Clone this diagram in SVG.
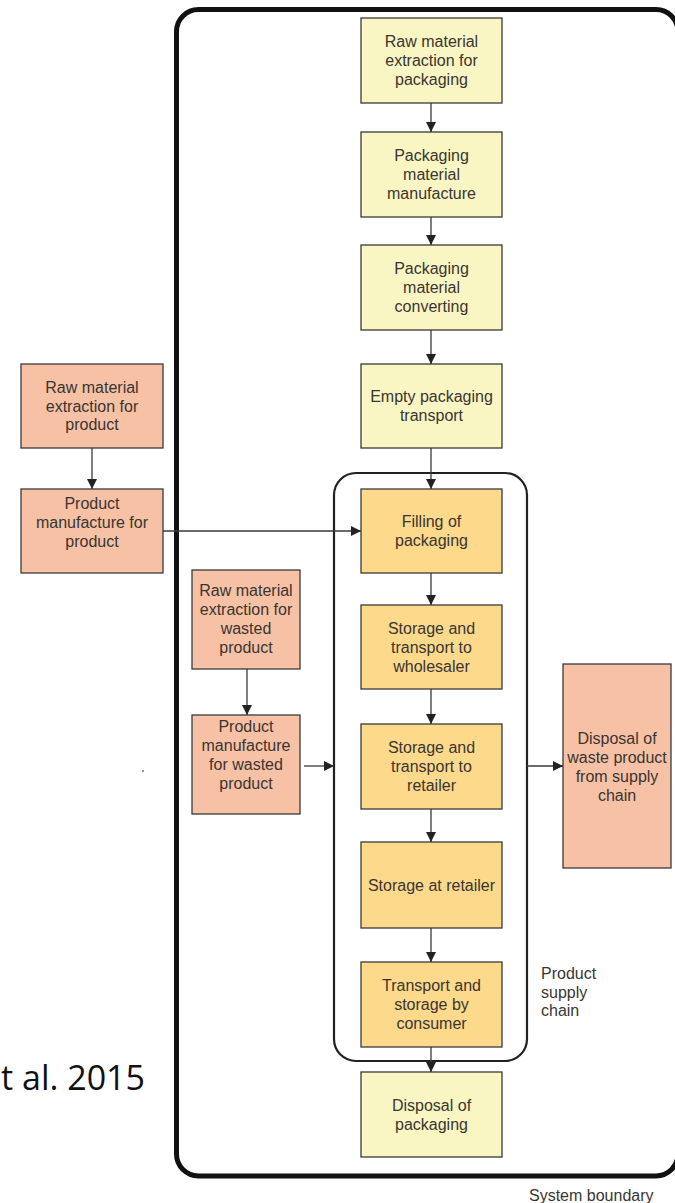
<svg xmlns="http://www.w3.org/2000/svg" width="675" height="1203" viewBox="0 0 675 1203">
<defs>
<style>
.box{stroke:#3a3a3a;stroke-width:1.3}
.pale{fill:#faf6c4}
.gold{fill:#fdd98c}
.salmon{fill:#f7c1a6}
.t{font-family:"Liberation Sans",Arial,sans-serif;font-size:16px;fill:#3a3530;text-anchor:middle}
.lbl{font-family:"Liberation Sans",Arial,sans-serif;font-size:16px;fill:#3a3530}
.c{stroke:#3a3a3a;stroke-width:1.3;fill:none;marker-end:url(#ah)}
</style>
<marker id="ah" markerUnits="userSpaceOnUse" markerWidth="10" markerHeight="10" refX="10" refY="5" orient="auto">
<path d="M0,0 L10,5 L0,10 z" fill="#222"/>
</marker>
</defs>
<rect width="675" height="1203" fill="#ffffff"/>
<g id="system-boundary">
<rect x="176.5" y="9.5" width="501.5" height="1166.5" rx="22" ry="22" fill="none" stroke="#111" stroke-width="5"/>
<text class="lbl" x="529" y="1201">System boundary</text>
</g>
<g id="product-supply-chain">
<rect x="334" y="473" width="193" height="588" rx="22" ry="22" fill="none" stroke="#222" stroke-width="2.2"/>
<text class="lbl" x="541" y="978.5">Product</text>
<text class="lbl" x="541" y="997.5">supply</text>
<text class="lbl" x="541" y="1016">chain</text>
</g>
<text id="citation" x="145" y="1090" font-family="'Open Sans','Noto Sans',sans-serif" font-size="34" fill="#111" text-anchor="end">et al. 2015</text>
<circle cx="143" cy="771" r="1" fill="#777"/>
<g id="raw-packaging"><rect class="box pale" x="361" y="18" width="141" height="85"/>
<text class="t" x="431.5" y="47">Raw material</text><text class="t" x="431.5" y="66">extraction for</text><text class="t" x="431.5" y="85">packaging</text></g>
<g id="packaging-manufacture"><rect class="box pale" x="361" y="132" width="141" height="85"/>
<text class="t" x="431.5" y="161">Packaging</text><text class="t" x="431.5" y="180">material</text><text class="t" x="431.5" y="199">manufacture</text></g>
<g id="packaging-converting"><rect class="box pale" x="361" y="245" width="141" height="85"/>
<text class="t" x="431.5" y="274">Packaging</text><text class="t" x="431.5" y="293">material</text><text class="t" x="431.5" y="312">converting</text></g>
<g id="empty-transport"><rect class="box pale" x="361" y="364" width="141" height="84"/>
<text class="t" x="431.5" y="402">Empty packaging</text><text class="t" x="431.5" y="421">transport</text></g>
<g id="filling"><rect class="box gold" x="361" y="489" width="141" height="84"/>
<text class="t" x="431.5" y="527">Filling of</text><text class="t" x="431.5" y="546">packaging</text></g>
<g id="wholesaler"><rect class="box gold" x="361" y="605" width="141" height="84"/>
<text class="t" x="431.5" y="633.5">Storage and</text><text class="t" x="431.5" y="652.5">transport to</text><text class="t" x="431.5" y="671.5">wholesaler</text></g>
<g id="retailer-transport"><rect class="box gold" x="361" y="724" width="141" height="85"/>
<text class="t" x="431.5" y="752.5">Storage and</text><text class="t" x="431.5" y="771.5">transport to</text><text class="t" x="431.5" y="790.5">retailer</text></g>
<g id="retailer-storage"><rect class="box gold" x="361" y="842" width="141" height="86"/>
<text class="t" x="431.5" y="890.5">Storage at retailer</text></g>
<g id="consumer"><rect class="box gold" x="361" y="962" width="141" height="85"/>
<text class="t" x="431.5" y="991">Transport and</text><text class="t" x="431.5" y="1010">storage by</text><text class="t" x="431.5" y="1029">consumer</text></g>
<g id="packaging-disposal"><rect class="box pale" x="361" y="1072" width="141" height="85"/>
<text class="t" x="431.5" y="1110.5">Disposal of</text><text class="t" x="431.5" y="1129.5">packaging</text></g>
<g id="raw-product"><rect class="box salmon" x="21" y="364" width="142" height="84"/>
<text class="t" x="92" y="392.5">Raw material</text><text class="t" x="92" y="411.5">extraction for</text><text class="t" x="92" y="430">product</text></g>
<g id="product-manufacture"><rect class="box salmon" x="21" y="489" width="142" height="84"/>
<text class="t" x="92" y="508.5">Product</text><text class="t" x="92" y="527.5">manufacture for</text><text class="t" x="92" y="546.5">product</text></g>
<g id="raw-wasted"><rect class="box salmon" x="192" y="570" width="108" height="99"/>
<text class="t" x="246" y="595.5">Raw material</text><text class="t" x="246" y="614.5">extraction for</text><text class="t" x="246" y="633.5">wasted</text><text class="t" x="246" y="653">product</text></g>
<g id="wasted-manufacture"><rect class="box salmon" x="192" y="715" width="108" height="99"/>
<text class="t" x="246" y="731.5">Product</text><text class="t" x="246" y="750.5">manufacture</text><text class="t" x="246" y="769.5">for wasted</text><text class="t" x="246" y="788.5">product</text></g>
<g id="waste-disposal"><rect class="box salmon" x="563" y="664" width="108" height="204"/>
<text class="t" x="617" y="743.5">Disposal of</text><text class="t" x="617" y="762.5">waste product</text><text class="t" x="617" y="781.5">from supply</text><text class="t" x="617" y="800.5">chain</text></g>
<g id="connectors">
<line class="c" x1="431" y1="103" x2="431" y2="132"/>
<line class="c" x1="431" y1="217" x2="431" y2="245"/>
<line class="c" x1="431" y1="330" x2="431" y2="364"/>
<line class="c" x1="431" y1="448" x2="431" y2="489"/>
<line class="c" x1="431" y1="573" x2="431" y2="605"/>
<line class="c" x1="431" y1="689" x2="431" y2="724"/>
<line class="c" x1="431" y1="809" x2="431" y2="842"/>
<line class="c" x1="431" y1="928" x2="431" y2="962"/>
<line class="c" x1="431" y1="1047" x2="431" y2="1072"/>
<line class="c" x1="92" y1="448" x2="92" y2="489"/>
<line class="c" x1="247" y1="669" x2="247" y2="715"/>
<line class="c" x1="163" y1="531" x2="361" y2="531"/>
<line class="c" x1="304" y1="766" x2="334" y2="766"/>
<line class="c" x1="527" y1="766" x2="563" y2="766"/>
</g>
</svg>
